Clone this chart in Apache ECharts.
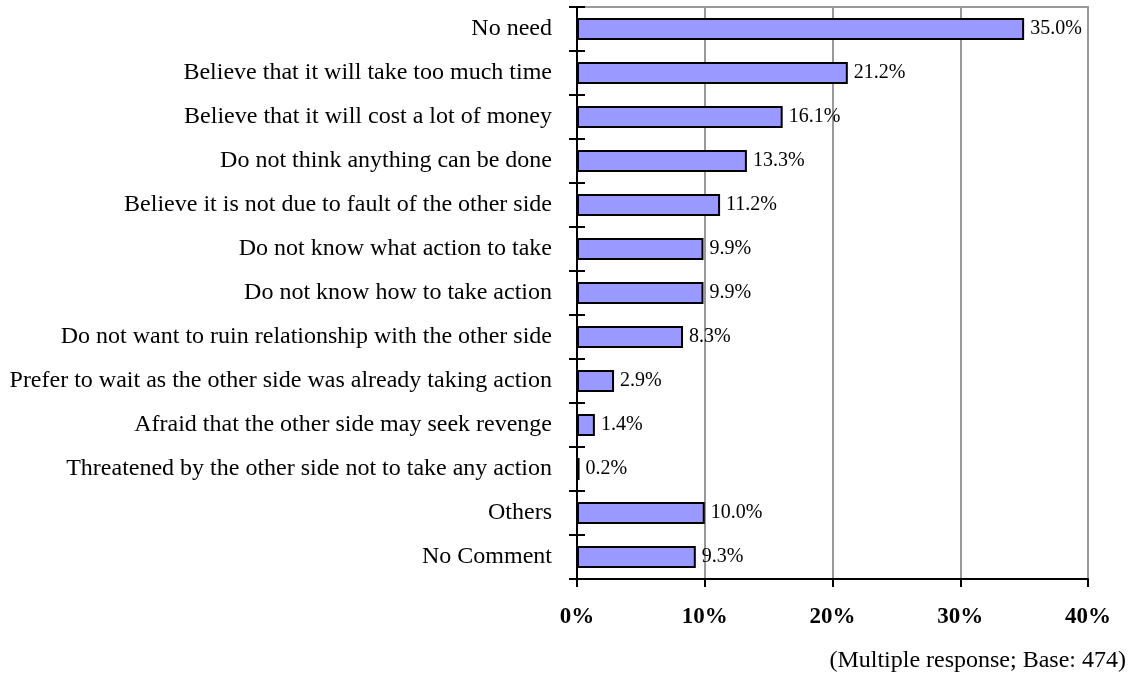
<!DOCTYPE html>
<html>
<head>
<meta charset="utf-8">
<script src="https://cdn.jsdelivr.net/npm/echarts@6/dist/echarts.min.js"></script>
<style>
  html, body { margin: 0; padding: 0; background: #fff; }
  #chart { width: 1134px; height: 675px; }
</style>
</head>
<body>
<div id="chart"></div>
<script>
var categories = [
  "No need",
  "Believe that it will take too much time",
  "Believe that it will cost a lot of money",
  "Do not think anything can be done",
  "Believe it is not due to fault of the other side",
  "Do not know what action to take",
  "Do not know how to take action",
  "Do not want to ruin relationship with the other side",
  "Prefer to wait as the other side was already taking action",
  "Afraid that the other side may seek revenge",
  "Threatened by the other side not to take any action",
  "Others",
  "No Comment"
];
var values = [35.0, 21.2, 16.1, 13.3, 11.2, 9.9, 9.9, 8.3, 2.9, 1.4, 0.2, 10.0, 9.3];
var footnote = "(Multiple response; Base: 474)";

var chartDom = document.getElementById("chart");
var myChart = echarts.init(chartDom);
var font = "'Liberation Serif', 'Times New Roman', serif";

var option = {
  animation: false,
  textStyle: { fontFamily: font, color: "#000" },
  grid: {
    left: 577, right: 46, top: 7, bottom: 96,
    show: true, borderColor: "#999", borderWidth: 2, backgroundColor: "transparent"
  },
  graphic: [
    {
      type: "text",
      right: 8,
      top: 649,
      style: { text: footnote, font: "24px " + font, fill: "#000" }
    }
  ],
  xAxis: {
    type: "value",
    min: 0,
    max: 40,
    interval: 10,
    axisLine: { show: true, lineStyle: { color: "#000", width: 2 } },
    axisTick: { show: true, length: 8, lineStyle: { color: "#000", width: 2 } },
    axisLabel: {
      formatter: "{value}%",
      fontFamily: font,
      fontSize: 23,
      fontWeight: "bold",
      color: "#000",
      margin: 27
    },
    splitLine: { show: true, lineStyle: { color: "#999", width: 2 } }
  },
  yAxis: [
    {
      type: "category",
      data: categories,
      inverse: true,
      axisLine: { show: true, lineStyle: { color: "#000", width: 2 } },
      axisTick: { show: true, length: 8, lineStyle: { color: "#000", width: 2 } },
      axisLabel: { fontFamily: font, fontSize: 24, color: "#000", margin: 25 }
    },
    {
      type: "category",
      data: categories,
      inverse: true,
      position: "left",
      axisLine: { show: false },
      axisTick: { show: true, inside: true, length: 8, lineStyle: { color: "#000", width: 2 } },
      axisLabel: { show: false }
    }
  ],
  series: [
    {
      type: "bar",
      data: values,
      barWidth: "50%",
      itemStyle: { color: "#9999ff", borderColor: "#000", borderWidth: 2 },
      label: {
        show: true,
        position: "right",
        distance: 6,
        fontFamily: font,
        fontSize: 20,
        color: "#000",
        formatter: function (p) { return p.value.toFixed(1) + "%"; }
      }
    }
  ]
};

option && myChart.setOption(option);
</script>
</body>
</html>
